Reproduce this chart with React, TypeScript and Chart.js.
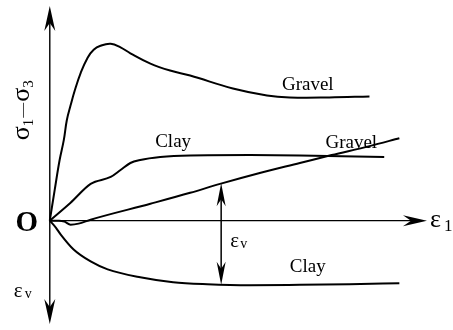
import React, { useEffect, useRef } from "react";
import { Chart, registerables } from "chart.js";

Chart.register(...registerables);

// Axial strain (x) and response (y) values (arbitrary units)
const gravelStressX = [0, 0.13, 0.26, 0.37, 0.45, 0.55, 0.66, 0.82, 1.0, 1.16, 1.34, 1.61, 1.87, 2.13, 2.66, 3.18, 3.71, 4.84, 5.74, 6.34, 7.39, 8.45];
const gravelStressY = [0, 1.55, 3.05, 4.05, 5.05, 5.8, 6.55, 7.45, 8.2, 8.6, 8.8, 8.9, 8.72, 8.42, 7.9, 7.55, 7.3, 6.65, 6.3, 6.2, 6.2, 6.25];

const clayStressX = [0, 0.55, 1.08, 1.61, 1.87, 2.13, 2.39, 2.92, 3.71, 5.29, 6.61, 8.84];
const clayStressY = [0, 0.9, 1.85, 2.2, 2.55, 2.9, 3.05, 3.2, 3.28, 3.3, 3.28, 3.2];

const gravelVolX = [0, 0.24, 0.39, 0.55, 0.76, 1.08, 2.66, 3.71, 4.5, 5.55, 6.61, 7.45, 8.45, 9.24];
const gravelVolY = [0, 0, -0.05, -0.2, -0.15, 0.05, 0.85, 1.4, 1.85, 2.4, 2.9, 3.3, 3.75, 4.15];

const clayVolX = [0, 0.16, 0.29, 0.63, 1.08, 1.53, 2.39, 3.26, 4.16, 5.29, 6.61, 7.92, 9.24];
const clayVolY = [0, -0.35, -0.7, -1.45, -2.05, -2.45, -2.85, -3.1, -3.2, -3.25, -3.23, -3.2, -3.15];

// Curve labels
const curveLabels = ["Gravel", "Clay", "Gravel", "Clay"];
const curveLabelX = [6.82, 3.26, 7.97, 6.82];
const curveLabelY = [6.55, 3.7, 3.65, -2.58];

// εv annotation (double arrow between the two volumetric curves)
const evArrowX = 4.53;
const evArrowTop = 1.88;
const evArrowBottom = -3.22;

// Axis extents
const axisXEnd = 9.97;
const axisYTop = 10.8;
const axisYBottom = -5.2;

const SERIF = "'Liberation Serif', 'Times New Roman', Times, serif";

function arrowHead(
  ctx: CanvasRenderingContext2D,
  tx: number,
  ty: number,
  dx: number,
  dy: number,
  L: number,
  W: number,
  notch: number
) {
  const nx = -dy;
  const ny = dx;
  ctx.beginPath();
  ctx.moveTo(tx, ty);
  ctx.lineTo(tx - L * dx + W * nx, ty - L * dy + W * ny);
  ctx.lineTo(tx - (L - notch) * dx, ty - (L - notch) * dy);
  ctx.lineTo(tx - L * dx - W * nx, ty - L * dy - W * ny);
  ctx.closePath();
  ctx.fill();
}

const decorPlugin = {
  id: "decor",
  beforeDatasetsDraw(chart: any) {
    const ctx: CanvasRenderingContext2D = chart.ctx;
    const xs = chart.scales.x;
    const ys = chart.scales.y;
    const x0 = xs.getPixelForValue(0);
    const y0 = ys.getPixelForValue(0);
    ctx.save();
    ctx.strokeStyle = "#000";
    ctx.fillStyle = "#000";
    ctx.lineWidth = 1.4;
    const yt = ys.getPixelForValue(axisYTop);
    const yb = ys.getPixelForValue(axisYBottom);
    ctx.beginPath();
    ctx.moveTo(x0, yt + 10);
    ctx.lineTo(x0, yb - 10);
    ctx.stroke();
    arrowHead(ctx, x0, yt, 0, -1, 25, 5.5, 8);
    arrowHead(ctx, x0, yb, 0, 1, 25, 5.5, 8);
    const xe = xs.getPixelForValue(axisXEnd);
    ctx.beginPath();
    ctx.moveTo(x0, y0);
    ctx.lineTo(xe - 10, y0);
    ctx.stroke();
    arrowHead(ctx, xe, y0, 1, 0, 24, 5.5, 8);
    ctx.restore();
  },
  afterDatasetsDraw(chart: any) {
    const ctx: CanvasRenderingContext2D = chart.ctx;
    const xs = chart.scales.x;
    const ys = chart.scales.y;
    const x0 = xs.getPixelForValue(0);
    const y0 = ys.getPixelForValue(0);
    ctx.save();
    ctx.fillStyle = "#000";
    ctx.strokeStyle = "#000";

    const ax = xs.getPixelForValue(evArrowX);
    const at = ys.getPixelForValue(evArrowTop);
    const ab = ys.getPixelForValue(evArrowBottom);
    ctx.lineWidth = 1.5;
    ctx.beginPath();
    ctx.moveTo(ax, at + 10);
    ctx.lineTo(ax, ab - 10);
    ctx.stroke();
    arrowHead(ctx, ax, at, 0, -1, 23, 4.5, 7);
    arrowHead(ctx, ax, ab, 0, 1, 23, 4.5, 7);

    ctx.textAlign = "center";
    ctx.textBaseline = "alphabetic";
    ctx.font = `19px ${SERIF}`;
    curveLabels.forEach((t, i) => {
      ctx.fillText(t, xs.getPixelForValue(curveLabelX[i]), ys.getPixelForValue(curveLabelY[i]));
    });

    ctx.textAlign = "left";
    ctx.font = `21px ${SERIF}`;
    ctx.fillText("ε", ax + 9, y0 + 26);
    ctx.font = `14px ${SERIF}`;
    ctx.fillText("v", ax + 19, y0 + 27);

    ctx.textAlign = "center";
    ctx.font = `bold 29px ${SERIF}`;
    ctx.fillText("O", x0 - 23, y0 + 10);

    ctx.textAlign = "left";
    const xe = xs.getPixelForValue(axisXEnd);
    ctx.font = `26px ${SERIF}`;
    ctx.fillText("ε", xe + 3, y0 + 6);
    ctx.font = `17px ${SERIF}`;
    ctx.fillText("1", xe + 17, y0 + 10);

    ctx.font = `21px ${SERIF}`;
    ctx.fillText("ε", x0 - 36, y0 + 76);
    ctx.font = `14px ${SERIF}`;
    ctx.fillText("v", x0 - 25, y0 + 77);

    // σ1−σ3 rotated
    ctx.translate(x0 - 21, ys.getPixelForValue(5.55));
    ctx.rotate(-Math.PI / 2);
    const pieces: [string, number, number, number][] = [
      ["σ", 26, 0, 0],
      ["1", 15, 4, 1],
      ["—", 15, -2, 1],
      ["σ", 26, 0, 0],
      ["3", 15, 4, 0],
    ];
    let total = 0;
    pieces.forEach(([t, s, , g]) => {
      ctx.font = `${s}px ${SERIF}`;
      total += ctx.measureText(t).width + g;
    });
    let cx = -total / 2;
    pieces.forEach(([t, s, dy, g]) => {
      ctx.font = `${s}px ${SERIF}`;
      ctx.fillText(t, cx, dy);
      cx += ctx.measureText(t).width + g;
    });
    ctx.restore();
  },
};

const series = [
  { xs: gravelStressX, ys: gravelStressY, smooth: true },
  { xs: clayStressX, ys: clayStressY, smooth: false },
  { xs: gravelVolX, ys: gravelVolY, smooth: false },
  { xs: clayVolX, ys: clayVolY, smooth: false },
];

export default function App() {
  const ref = useRef<HTMLCanvasElement | null>(null);
  useEffect(() => {
    if (!ref.current) return;
    const chart = new Chart(ref.current, {
      type: "line",
      data: {
        datasets: series.map((s) => ({
          data: s.xs.map((x, i) => ({ x, y: s.ys[i] })),
          borderColor: "#000",
          borderWidth: 2,
          pointRadius: 0,
          fill: false,
          tension: s.smooth ? 0.4 : 0,
          cubicInterpolationMode: (s.smooth ? "default" : "monotone") as any,
        })),
      },
      options: {
        animation: false,
        responsive: false,
        layout: { padding: 0 },
        plugins: { legend: { display: false }, tooltip: { enabled: false }, title: { display: false } },
        scales: {
          x: { type: "linear", min: -1.2895, max: 10.6316, display: false },
          y: { type: "linear", min: -5.45, max: 11.05, display: false },
        },
        events: [],
      },
      plugins: [decorPlugin],
    });
    let alive = true;
    const fonts = (document as any).fonts;
    if (fonts && fonts.load) {
      Promise.all([
        fonts.load("19px 'Liberation Serif'"),
        fonts.load("bold 29px 'Liberation Serif'"),
      ])
        .then(() => {
          if (alive) chart.update();
        })
        .catch(() => {});
    }
    return () => {
      alive = false;
      chart.destroy();
    };
  }, []);
  return (
    <div style={{ position: "fixed", left: 0, top: 0, width: 453, height: 330, background: "#fff" }}>
      <canvas ref={ref} width={453} height={330} style={{ display: "block" }} />
    </div>
  );
}
